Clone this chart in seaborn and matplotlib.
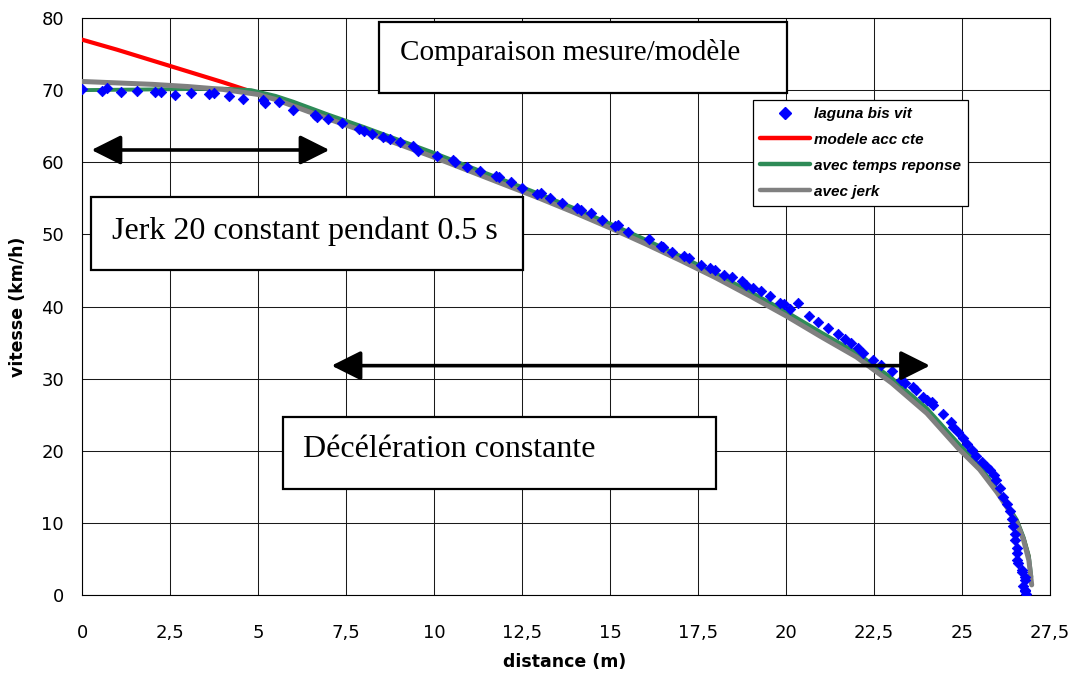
import numpy as np
import pandas as pd
import matplotlib
matplotlib.use("Agg")
import matplotlib.pyplot as plt
from matplotlib.lines import Line2D
from matplotlib.patches import Rectangle
import seaborn as sns

# ---- data ----
meas_d = [0.01, 0.56, 0.72, 1.10, 1.55, 2.07, 2.24, 2.64, 3.09, 3.62, 3.76, 4.17, 4.58,
          5.13, 5.20, 5.59, 6.00, 6.62, 6.69, 7.00, 7.40, 7.86, 8.00, 8.24, 8.55, 8.75,
          9.03, 9.40, 9.55, 10.09, 10.55, 10.60, 10.93, 11.30, 11.75, 11.85, 12.18, 12.51,
          12.93, 13.03, 13.30, 13.65, 14.05, 14.17, 14.45, 14.77, 15.14, 15.24, 15.50,
          16.10, 16.44, 16.51, 16.75, 17.11, 17.25, 17.58, 17.84, 17.98, 18.24, 18.48,
          18.74, 18.86, 19.07, 19.28, 19.55, 19.83, 19.94, 20.11, 20.35, 20.65, 20.90,
          21.18, 21.48, 21.68, 21.85, 22.05, 22.20, 22.48, 22.71, 23.00, 23.28, 23.38,
          23.61, 23.70, 23.90, 24.00, 24.14, 24.18, 24.47, 24.70, 24.75, 24.90, 25.04,
          25.15, 25.27, 25.40, 25.56, 25.70, 25.80, 25.90, 25.98, 26.08, 26.17, 26.27,
          26.36, 26.42, 26.46, 26.50, 26.50, 26.55, 26.55, 26.55, 26.60, 26.70, 26.70,
          26.80, 26.80, 26.74, 26.80, 26.80, 26.82]
meas_v = [70.1, 69.9, 70.3, 69.8, 69.9, 69.7, 69.8, 69.3, 69.6, 69.5, 69.6, 69.2, 68.8,
          68.6, 68.2, 68.3, 67.3, 66.6, 66.3, 66.0, 65.5, 64.6, 64.3, 63.9, 63.5, 63.2,
          62.8, 62.2, 61.6, 60.8, 60.3, 60.1, 59.4, 58.8, 58.1, 58.0, 57.3, 56.4,
          55.6, 55.8, 55.0, 54.3, 53.6, 53.4, 52.9, 52.0, 51.1, 51.3, 50.3,
          49.3, 48.4, 48.2, 47.6, 47.0, 46.7, 45.8, 45.4, 45.1, 44.4, 44.1,
          43.5, 43.0, 42.5, 42.1, 41.4, 40.5, 40.4, 39.6, 40.5, 38.7, 37.8,
          37.0, 36.2, 35.5, 34.9, 34.3, 33.5, 32.6, 31.9, 31.0, 29.8, 29.4,
          28.9, 28.4, 27.5, 27.0, 26.8, 26.4, 25.1, 24.0, 23.3, 22.6, 21.7,
          21.0, 20.1, 19.3, 18.5, 17.8, 17.3, 16.6, 15.9, 14.8, 13.6, 12.6,
          11.6, 10.5, 9.5, 8.4, 7.6, 6.5, 5.8, 4.9, 4.4, 3.5, 3.2,
          2.5, 2.1, 1.2, 0.7, 0.5, 0.2]

red_d = [0, 1, 2, 3, 4, 5, 5.5, 6, 7, 8, 9, 10, 11, 12, 13, 14, 15, 16, 17, 18, 19, 20,
         21, 22, 23, 24, 24.9, 25.5, 26, 26.3, 26.56, 26.75, 26.9]
red_v = [77.0, 75.6, 74.1, 72.6, 71.1, 69.5, 68.9, 68.0, 66.2, 64.5, 62.7, 60.9, 59.0,
         57.1, 55.2, 53.2, 51.1, 48.9, 46.6, 44.2, 41.6, 38.9, 36.0, 33.3, 29.8, 25.6,
         20.7, 17.6, 14.4, 12.2, 10.2, 7.8, 5.2]

green_d = [0, 2, 4, 4.8, 5.5, 6, 7, 8, 9, 10, 11, 12, 13, 14, 15, 16, 17, 18, 19, 20,
           21, 22, 23, 24, 24.9, 25.5, 26, 26.3, 26.56, 26.75, 26.9, 26.97]
green_v = [70.0, 70.1, 70.2, 70.0, 69.2, 68.4, 66.6, 64.9, 63.1, 61.3, 59.4, 57.5, 55.6,
           53.6, 51.5, 49.3, 47.0, 44.6, 42.0, 39.3, 36.4, 33.6, 30.1, 25.9, 21.0,
           17.9, 14.6, 12.4, 10.4, 8.0, 5.4, 2.5]

grey_d = [0, 1, 2, 3, 4, 5, 5.5, 6, 7, 8, 9, 10, 11, 12, 13, 14, 15, 16, 17, 18, 19,
          20, 21, 22, 23, 24, 24.9, 25.5, 26, 26.3, 26.56, 26.75, 26.9, 26.98]
grey_v = [71.2, 71.0, 70.8, 70.5, 70.1, 69.4, 68.7, 67.8, 66.0, 64.3, 62.5, 60.7, 58.8,
          56.9, 55.0, 53.0, 50.9, 48.7, 46.4, 44.0, 41.4, 38.7, 35.8, 33.0, 29.4, 25.2,
          20.3, 17.4, 14.2, 12.0, 10.0, 7.6, 4.8, 1.4]

x_ticks = [0, 2.5, 5, 7.5, 10, 12.5, 15, 17.5, 20, 22.5, 25, 27.5]
x_tick_labels = ["0", "2,5", "5", "7,5", "10", "12,5", "15", "17,5", "20", "22,5", "25", "27,5"]
y_ticks = [0, 10, 20, 30, 40, 50, 60, 70, 80]

series_names = ["laguna bis vit", "modele acc cte", "avec temps reponse", "avec jerk"]

# ---- figure ----
sns.set_style("white")
plt.rcParams["text.color"] = "black"
plt.rcParams["axes.labelcolor"] = "black"
W, H = 1070, 677
fig = plt.figure(figsize=(W / 100, H / 100), dpi=100)
L, R, T, B = 82, 1050, 18, 595
ax = fig.add_axes([L / W, 1 - B / H, (R - L) / W, (B - T) / H])

def fx(px):
    return (px - L) / (R - L)

def fy(py):
    return (B - py) / (B - T)

sns.lineplot(x=red_d, y=red_v, sort=False, estimator=None, color="#FF0000", lw=3.0,
             ax=ax, zorder=3)
sns.lineplot(x=green_d, y=green_v, sort=False, estimator=None, color="#2E8B57", lw=2.8,
             ax=ax, zorder=4)
sns.lineplot(x=grey_d, y=grey_v, sort=False, estimator=None, color="#808080", lw=3.6,
             ax=ax, zorder=5)
meas = pd.DataFrame({"distance": meas_d, "vitesse": meas_v})
sns.scatterplot(data=meas, x="distance", y="vitesse", marker="D", s=28,
                color="#0000FF", edgecolor="#0000FF", linewidth=0.6, ax=ax, zorder=6)

ax.set_xlim(0, 27.5)
ax.set_ylim(0, 80)
ax.set_xticks(x_ticks)
ax.set_xticklabels(x_tick_labels)
ax.set_yticks(y_ticks)
ax.grid(True, color="#1a1a1a", lw=0.75)
ax.set_axisbelow(True)
for s in ax.spines.values():
    s.set_color("black")
    s.set_linewidth(0.8)
ax.tick_params(axis="both", direction="inout", length=8, width=0.8, color="black",
               labelsize=13, labelcolor="black")
ax.tick_params(axis="x", pad=17)
ax.tick_params(axis="y", pad=9)
for lab in ax.get_xticklabels() + ax.get_yticklabels():
    lab.set_family("DejaVu Sans")

ax.set_xlabel("distance (m)", fontsize=12.5, fontweight="bold", family="DejaVu Sans")
ax.set_ylabel("vitesse (km/h)", fontsize=12.5, fontweight="bold", family="DejaVu Sans")
ax.xaxis.set_label_coords(0.499, fy(653))
ax.yaxis.set_label_coords(fx(27), 0.5)

# arrows
arrow_kw = dict(arrowstyle="<|-|>,head_length=0.9,head_width=0.45", color="black",
                lw=2.6, mutation_scale=20, shrinkA=0, shrinkB=0)
ax.annotate("", xy=(0.27, 61.7), xytext=(7.03, 61.7), arrowprops=arrow_kw, zorder=7)
ax.annotate("", xy=(7.09, 31.8), xytext=(24.09, 31.8), arrowprops=arrow_kw, zorder=7)

# text boxes
boxes = [
    ((379, 22, 787, 93), "Comparaison mesure/modèle", 400, 60, 21),
    ((91, 197, 523, 270), "Jerk 20 constant pendant 0.5 s", 112, 239, 23),
    ((283, 417, 716, 489), "Décélération constante", 303, 457, 23),
]
for (x0, y0, x1, y1), txt, tx, ty, fs in boxes:
    ax.add_patch(Rectangle((fx(x0), fy(y1)), fx(x1) - fx(x0), fy(y0) - fy(y1),
                           transform=ax.transAxes, facecolor="white", edgecolor="black",
                           lw=1.6, zorder=8, clip_on=False))
    ax.text(fx(tx), fy(ty), txt, transform=ax.transAxes, fontsize=fs, color="black",
            family="Liberation Serif", ha="left", va="baseline", zorder=9)

# legend
handles = [
    Line2D([], [], marker="D", color="#0000FF", ls="none", markersize=6.5),
    Line2D([], [], color="#FF0000", lw=3.2),
    Line2D([], [], color="#2E8B57", lw=3.2),
    Line2D([], [], color="#808080", lw=3.2),
]
leg = ax.legend(handles, series_names, loc="upper left",
                bbox_to_anchor=(fx(753), fy(100)), frameon=True, fancybox=False,
                edgecolor="black", framealpha=1, borderpad=0.45, handlelength=3.3,
                handletextpad=0.25, labelspacing=0.78, borderaxespad=0,
                prop={"family": "Liberation Sans", "weight": "bold", "style": "italic",
                      "size": 11})
leg.get_frame().set_linewidth(0.9)
leg.set_zorder(10)
for t in leg.get_texts():
    t.set_color("black")

fig.savefig("out.png", dpi=100)
